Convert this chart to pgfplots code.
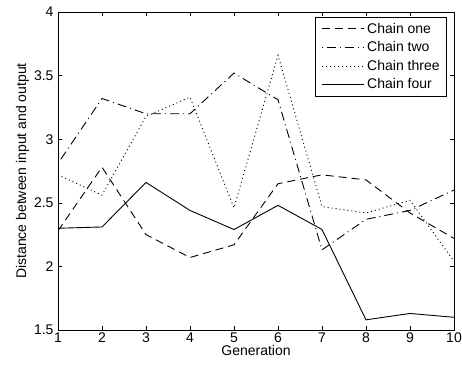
\documentclass[border=0pt]{standalone}
\usepackage{fontspec}
\setmainfont{Liberation Sans}
\usepackage{pgfplots}
\pgfplotsset{compat=1.18}
\begin{document}
\begin{tikzpicture}
\begin{axis}[
  scale only axis,
  width=396pt, height=318pt,
  xmin=1, xmax=10, ymin=1.5, ymax=4,
  xtick={1,2,...,10},
  ytick={1.5,2,2.5,3,3.5,4},
  yticklabels={1.5,2,2.5,3,3.5,4},
  tick align=inside,
  major tick length=4pt,
  tick style={black, line width=0.6pt},
  axis line style={line width=0.8pt},
  /pgf/number format/assume math mode=true,
  tick label style={font=\fontsize{14}{16}\selectfont},
  label style={font=\fontsize{14}{16}\selectfont},
  xticklabel style={yshift=1pt},
  yticklabel style={xshift=-1pt},
  xlabel={Generation},
  ylabel={Distance between input and output},
  xlabel style={yshift=4pt},
  ylabel style={yshift=-2pt},
  legend style={at={(1,1)}, anchor=north east, xshift=-7pt, yshift=-5pt,
    draw=black, line width=0.8pt,
    font=\fontsize{14}{16}\selectfont, row sep=5pt, column sep=2pt,
    inner xsep=6pt, inner ysep=4.5pt,
    nodes={inner sep=1pt}},
  legend cell align=left,
  legend image code/.code={\draw[#1] (0pt,0pt) -- (42pt,0pt);},
  every axis plot/.append style={line width=0.9pt, black},
]
\coordinate (ll) at (rel axis cs:0,0);
\coordinate (ur) at (rel axis cs:1,1);
\addplot[dash pattern=on 8pt off 5pt] coordinates {(1,2.28) (2,2.78) (3,2.25) (4,2.07) (5,2.17) (6,2.65) (7,2.72) (8,2.68) (9,2.42) (10,2.22)};
\addlegendentry{Chain one}
\addplot[dash pattern=on 1pt off 4pt on 9pt off 4pt] coordinates {(1,2.81) (2,3.32) (3,3.2) (4,3.2) (5,3.52) (6,3.31) (7,2.13) (8,2.37) (9,2.44) (10,2.60)};
\addlegendentry{Chain two}
\addplot[dash pattern=on 1pt off 3pt] coordinates {(1,2.72) (2,2.56) (3,3.18) (4,3.33) (5,2.46) (6,3.66) (7,2.47) (8,2.42) (9,2.52) (10,2.04)};
\addlegendentry{Chain three}
\addplot[solid] coordinates {(1,2.30) (2,2.31) (3,2.66) (4,2.44) (5,2.29) (6,2.48) (7,2.29) (8,1.58) (9,1.63) (10,1.60)};
\addlegendentry{Chain four}
\end{axis}
\pgfresetboundingbox
\path (ll) ++(-58pt,-39pt) rectangle ([shift={(8pt,12pt)}]ur);
\end{tikzpicture}
\end{document}
